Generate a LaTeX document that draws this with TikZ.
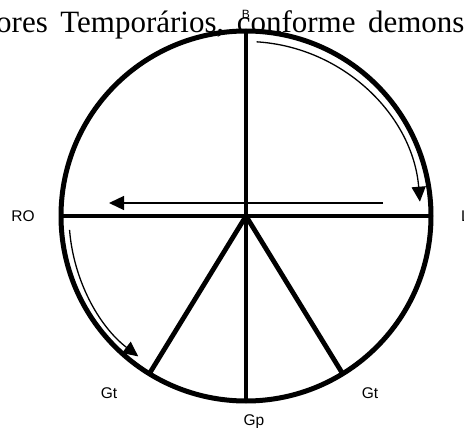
\documentclass[tikz,border=0pt]{standalone}
\usepackage{fontspec}
\setmainfont{Liberation Sans}
\newfontfamily\bodyserif{Liberation Serif}
\usetikzlibrary{arrows.meta,calc}
\tikzset{
  rim/.style={line width=5pt,draw=black},
  spoke/.style={line width=4.8pt,draw=black},
  motion/.style={-{Triangle[length=15pt,width=14pt]},line width=1.3pt,draw=black},
  zonelabel/.style={font=\fontsize{15.5}{17}\selectfont,inner sep=0pt,anchor=base},
}

\begin{document}
\begin{tikzpicture}[x=1pt,y=-1pt]
  \useasboundingbox (0,0) rectangle (464,428);
  \fill[white] (0,0) rectangle (464,428);
  % running text of the page, behind the figure
  \node[anchor=base west,inner sep=0pt,font=\bodyserif\fontsize{31}{37}\selectfont] (txt) at (-4,33)
    {\spaceskip=12.5pt ores Temporários, conforme demons};
  % wheel
  \coordinate (O) at (246,216);
  \coordinate (top) at ($(O)+(90:185pt)$);
  \coordinate (bot) at ($(O)+(270:185pt)$);
  \coordinate (west) at ($(O)+(180:185pt)$);
  \coordinate (east) at ($(O)+(0:185pt)$);
  \coordinate (gtl) at ($(O)+(238.5:185pt)$);
  \coordinate (gtr) at ($(O)+(301.5:185pt)$);
  \draw[rim] (O) circle[radius=185pt];
  \draw[spoke] (top) -- (bot);
  \draw[spoke] (west) -- (east);
  \draw[spoke] (gtl) -- (O) -- (gtr);
  % movement arrows
  \coordinate (hr) at (383,203);
  \coordinate (hl) at (109,203);
  \draw[motion] ($(O)+(86.5:174.5pt)$) arc[start angle=86.5,end angle=4.7,radius=174.5pt];
  \draw[motion] (hr) -- (hl);
  \draw[motion] ($(O)+(184.5:177pt)$) arc[start angle=184.5,end angle=232.5,radius=177pt];
  % labels
  \node[zonelabel,font=\fontsize{12}{14}\selectfont] (lb) at (246,19) {B};
  \node[zonelabel] (lro) at (23,222) {RO};
  \node[zonelabel,anchor=base west] (ll) at (461,222) {L};
  \node[zonelabel] (lgt1) at (109,398) {Gt};
  \node[zonelabel] (lgt2) at (370,398) {Gt};
  \node[zonelabel] (lgp) at (254,425) {Gp};
\end{tikzpicture}
\end{document}
